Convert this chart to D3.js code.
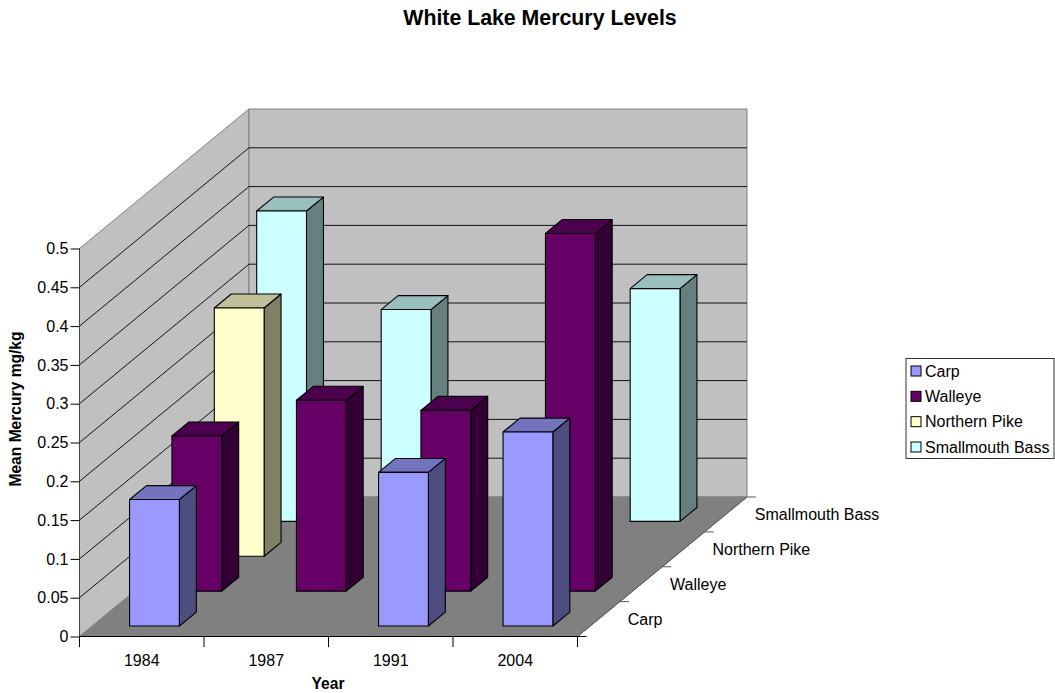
<!DOCTYPE html>
<html>
<head>
<meta charset="utf-8">
<title>White Lake Mercury Levels</title>
<script src="https://cdn.jsdelivr.net/npm/d3@7"></script>
<style>
html, body { margin: 0; padding: 0; background: #fff; }
svg { display: block; }
text { font-family: "Liberation Sans", Arial, sans-serif; fill: #000; }
</style>
</head>
<body>
<svg id="chart" width="1055" height="693"></svg>
<script>
const years = ["1984", "1987", "1991", "2004"];
const species = ["Carp", "Walleye", "Northern Pike", "Smallmouth Bass"];
const carp = [0.163, null, 0.198, 0.25];
const walleye = [0.2, 0.246, 0.233, 0.461];
const northernPike = [0.32, null, null, null];
const smallmouthBass = [0.4, 0.273, null, 0.3];
const seriesValues = [carp, walleye, northernPike, smallmouthBass];
const frontColors = ["#9999FF", "#660066", "#FFFFCC", "#CCFFFF"];
const yTicks = [0, 0.05, 0.1, 0.15, 0.2, 0.25, 0.3, 0.35, 0.4, 0.45, 0.5];

const svg = d3.select("#chart");

// Plot box: front edge of the floor plus the shear toward the back wall.
const left = 79.5, right = 577.5, base = 636.5, top05 = 248.5;
const shearX = 169.5, shearY = 139.5;

const x = d3.scaleBand().domain(years).range([left, right]).paddingInner(0.6).paddingOuter(0.3);
const xStep = x.step();
const z = d3.scaleBand().domain(species).range([0, 1]).paddingInner(0.6).paddingOuter(0.3);
const y = d3.scaleLinear().domain([0, 0.5]).range([base, top05]);

const px = (sx, d) => sx + d * shearX;
const py = (sy, d) => sy - d * shearY;
const poly = pts => pts.map(p => p.join(",")).join(" ");

// Walls and floor
const backL = px(left, 1), backR = px(right, 1);
const backBase = py(base, 1), backTop = py(top05, 1);

svg.append("polygon").attr("points", poly([[left, base], [left, top05], [backL, backTop], [backL, backBase]]))
  .attr("fill", "#C0C0C0").attr("stroke", "#808080").attr("stroke-width", 1);
svg.append("polygon").attr("points", poly([[backL, backBase], [backL, backTop], [backR, backTop], [backR, backBase]]))
  .attr("fill", "#C0C0C0").attr("stroke", "#808080").attr("stroke-width", 1);
svg.append("polygon").attr("points", poly([[left, base], [backL, backBase], [backR, backBase], [right, base]]))
  .attr("fill", "#808080").attr("stroke", "#808080").attr("stroke-width", 1);

// Gridlines run across the left wall and along the back wall
const inner = yTicks.filter(t => t > 0 && t < 0.5);
svg.append("g").selectAll("path").data(inner).join("path")
  .attr("fill", "none").attr("stroke", "#111").attr("stroke-width", 1)
  .attr("d", t => `M${left},${y(t)}L${backL},${py(y(t), 1)}L${backR},${py(y(t), 1)}`);

// Bars, drawn from the back row forward
const bars = [];
species.forEach((s, si) => years.forEach((yr, yi) => {
  const v = seriesValues[si][yi];
  if (v !== null) bars.push({ si, s, yr, v });
}));
bars.sort((a, b) => b.si - a.si || years.indexOf(a.yr) - years.indexOf(b.yr));

const barLayer = svg.append("g").attr("stroke", "#000").attr("stroke-width", 1.1).attr("stroke-linejoin", "round");
bars.forEach(b => {
  const d0 = z(b.s), d1 = d0 + z.bandwidth();
  const x0 = px(x(b.yr), d0), x1 = x0 + x.bandwidth();
  const yb = py(base, d0), yt = yb - (base - y(b.v));
  const dx = d1 * shearX - d0 * shearX, dy = d1 * shearY - d0 * shearY;
  const c = d3.color(frontColors[b.si]);
  const shade = k => d3.rgb(c.r * k, c.g * k, c.b * k).formatHex();
  barLayer.append("polygon").attr("fill", shade(0.5))
    .attr("points", poly([[x1, yb], [x1 + dx, yb - dy], [x1 + dx, yt - dy], [x1, yt]]));
  barLayer.append("polygon").attr("fill", shade(0.75))
    .attr("points", poly([[x0, yt], [x1, yt], [x1 + dx, yt - dy], [x0 + dx, yt - dy]]));
  barLayer.append("rect").attr("fill", frontColors[b.si])
    .attr("x", x0).attr("y", yt).attr("width", x1 - x0).attr("height", yb - yt);
});

// Value axis
const yAxis = d3.axisLeft(y).tickValues(yTicks).tickSize(9).tickPadding(2).tickFormat(d => String(d));
const yG = svg.append("g").attr("transform", `translate(${left},0)`).call(yAxis);
yG.select(".domain").attr("stroke", "#444").attr("d", `M0,${top05}V${base}`);
yG.selectAll("line").attr("stroke", "#000");
yG.selectAll("text").attr("font-size", 16).attr("font-family", '"Liberation Sans", Arial, sans-serif');

// Category axis: ticks sit on the boundaries between years
const axisLayer = svg.append("g").attr("stroke", "#000").attr("stroke-width", 1);
axisLayer.append("line").attr("x1", left).attr("x2", right).attr("y1", base).attr("y2", base);
d3.range(years.length + 1).forEach(i => {
  const tx = left + i * xStep;
  axisLayer.append("line").attr("x1", tx).attr("x2", tx).attr("y1", base).attr("y2", base + 10.5);
});
svg.append("g").selectAll("text").data(years).join("text")
  .attr("x", d => x(d) + x.bandwidth() / 2).attr("y", 665.5)
  .attr("text-anchor", "middle").attr("font-size", 16).text(d => d);

// Depth axis along the right edge of the floor
axisLayer.append("line").attr("x1", right).attr("y1", base).attr("x2", backR).attr("y2", backBase).attr("stroke", "#555");
d3.range(species.length + 1).forEach(i => {
  const d = i / species.length;
  axisLayer.append("line").attr("x1", px(right, d)).attr("x2", px(right, d) + 9)
    .attr("y1", py(base, d)).attr("y2", py(base, d)).attr("stroke", i === 0 ? "#000" : "#555");
});
svg.append("g").selectAll("text").data(species).join("text")
  .attr("x", s => px(right, z(s) + z.bandwidth() / 2) + 29)
  .attr("y", s => py(base, z(s) + z.bandwidth() / 2) + 5.5)
  .attr("font-size", 16).text(s => s);

// Titles
svg.append("text").attr("x", 540).attr("y", 24.5).attr("text-anchor", "middle")
  .attr("font-size", 21.3).attr("font-weight", "bold").text("White Lake Mercury Levels");
svg.append("text").attr("x", 328).attr("y", 689).attr("text-anchor", "middle")
  .attr("font-size", 15.6).attr("font-weight", "bold").text("Year");
svg.append("text").attr("transform", "translate(21,409) rotate(-90)").attr("text-anchor", "middle")
  .attr("font-size", 15.6).attr("font-weight", "bold").text("Mean Mercury mg/kg");

// Legend
const legend = svg.append("g");
legend.append("rect").attr("x", 906).attr("y", 358.5).attr("width", 148).attr("height", 100)
  .attr("fill", "#fff").attr("stroke", "#333").attr("stroke-width", 1);
const legendY = d3.scalePoint().domain(species).range([371, 447]);
species.forEach((s, i) => {
  legend.append("rect").attr("x", 911).attr("y", legendY(s) - 5).attr("width", 10).attr("height", 10)
    .attr("fill", frontColors[i]).attr("stroke", "#000").attr("stroke-width", 1);
  legend.append("text").attr("x", 925).attr("y", legendY(s) + 5.5).attr("font-size", 16).text(s);
});
</script>
</body>
</html>
